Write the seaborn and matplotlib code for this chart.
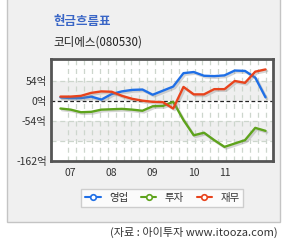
import numpy as np
import pandas as pd
import seaborn as sns
import matplotlib
matplotlib.use("Agg")
import matplotlib.pyplot as plt
from matplotlib.patches import Rectangle
from matplotlib.lines import Line2D
import matplotlib.patheffects as pe

# ---- data ----
periods = list(range(21))
operating = [9, 7, 7, 11, 3, 18, 25, 29, 30, 16, 27, 38, 74, 77, 67, 66, 68, 81, 80, 62, 9]
investing = [-21, -24, -31, -30, -24, -23, -22, -24, -27, -15, -14, -3, -52, -93, -86, -106, -124, -115, -106, -73, -81]
financing = [11, 11, 13, 21, 25, 24, 13, 5, 0, -3, -4, -21, 37, 17, 17, 31, 31, 53, 48, 78, 84]
series_names = ["영업", "투자", "재무"]
series_colors = ["#1f6fe6", "#5ea31c", "#e8431c"]
xtick_pos = [1, 5, 9, 13, 16]
xtick_labels = ["07", "08", "09", "10", "11"]
ytick_vals = [54, 0, -54, -162]
ytick_labels = ["54억", "0억", "-54억", "-162억"]
title = "현금흐름표"
subtitle = "코디에스(080530)"
source = "(자료 : 아이투자 www.itooza.com)"

df = pd.DataFrame({
    "period": periods * 3,
    "value": operating + investing + financing,
    "series": [series_names[0]] * 21 + [series_names[1]] * 21 + [series_names[2]] * 21,
})

sns.set_style("white")
plt.rcParams["font.family"] = ["Noto Sans CJK KR", "DejaVu Sans"]

W, H = 287, 240
fig = plt.figure(figsize=(W / 100, H / 100), dpi=100)
fig.patch.set_facecolor("white")

# outer gray panel
panel = Rectangle((7 / W, (H - 222) / H), 273 / W, 222 / H + 0.05,
                  transform=fig.transFigure, facecolor="#f0f0f0",
                  edgecolor="#c4c4c4", linewidth=1.0, zorder=-10)
fig.patches.append(panel)

ax = fig.add_axes([51 / W, (H - 161) / H, 222 / W, 102 / H])
ax.set_zorder(5)
ax.set_facecolor("white")
ax.set_xlim(-0.92, 20.73)
ax.set_ylim(-162, 112)

# horizontal bands
ax.axhspan(0, 54, color="#efefef", zorder=0, lw=0)
ax.axhspan(-108, -54, color="#efefef", zorder=0, lw=0)
# grid lines
for j in range(1, 27):
    ax.axvline(j * 20 / 26, color="#cdd6cd", lw=0.9, ls=(0, (4, 3)), zorder=1)
for yv in [54, -54, -108]:
    ax.axhline(yv, color="#cdd6cd", lw=0.9, ls=(0, (4, 3)), zorder=1)
ax.axhline(0, color="#222222", lw=0.9, ls=(0, (3, 2)), zorder=2)

sns.lineplot(data=df, x="period", y="value", hue="series", palette=series_colors,
             hue_order=series_names, linewidth=1.7, ax=ax, legend=False, zorder=3)
for ln in ax.get_lines()[-3:]:
    ln.set_path_effects([pe.SimpleLineShadow(offset=(1.2, -1.2), shadow_color="#888888", alpha=0.35),
                         pe.Normal()])

ax.set_xticks(xtick_pos)
ax.set_xticklabels(xtick_labels)
ax.set_yticks(ytick_vals)
ax.set_yticklabels(ytick_labels)
ax.tick_params(axis="both", length=0, labelsize=7.5, colors="#333333")
ax.tick_params(axis="x", pad=5)
ax.tick_params(axis="y", pad=3)
ax.set_xlabel("")
ax.set_ylabel("")
for sp in ax.spines.values():
    sp.set_visible(True)
    sp.set_color("#555555")
    sp.set_linewidth(2.0)

# titles
fig.text(53 / W, 1 - 22 / H, title, color="#3a66c6", fontsize=9, fontweight="bold",
         va="center", ha="left")
fig.text(53 / W, 1 - 42 / H, subtitle, color="#222222", fontsize=8.3,
         va="center", ha="left")

# legend
handles = [Line2D([0], [0], color=c, lw=1.5, marker="o", markersize=4,
                  markerfacecolor="white", markeredgecolor=c, markeredgewidth=1.2)
           for c in series_colors]
leg = fig.legend(handles, series_names, loc="center", bbox_to_anchor=(162.4 / W, 1 - 198 / H),
                 bbox_transform=fig.transFigure, ncol=3, frameon=True, fancybox=False,
                 fontsize=7.5, handlelength=1.5, handletextpad=0.8, columnspacing=1.2,
                 borderpad=0.35, edgecolor="#c4c4c4")
leg.get_frame().set_linewidth(1.0)
for t in leg.get_texts():
    t.set_color("#333333")

fig.text(278 / W, 1 - 232 / H, source, color="#333333", fontsize=8,
         va="center", ha="right")

fig.savefig("out.png", dpi=100)
